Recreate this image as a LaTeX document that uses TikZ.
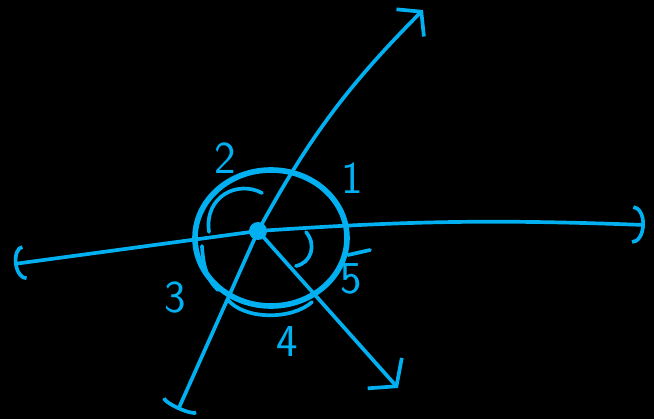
\documentclass[tikz,border=0pt]{standalone}
\usetikzlibrary{arrows.meta}
\definecolor{sketchblue}{RGB}{0,176,240}

\begin{document}
\begin{tikzpicture}[x=0.02cm,y=-0.02cm]

    \tikzset{
      ray/.style={
        color=sketchblue,
        line width=2.1pt,
        line cap=round,
      },
      rim/.style={
        color=sketchblue,
        line width=3.2pt,
        line cap=round,
      },
      digit/.style={
        color=sketchblue,
        font=\fontsize{26}{26}\selectfont\sffamily,
        inner sep=0pt,
      },
    }

	\fill[black] (0,0) rectangle (654,419);

	\node[circle,fill=sketchblue,inner sep=0pt,minimum size=0.36cm] (O) at (258,231) {};
	\coordinate (E) at (645,225);
	\coordinate (W) at (14,264);
	\coordinate (NE) at (423,10);
	\coordinate (SW) at (178,410);
	\coordinate (SE) at (398,388);

	% the rays
	\draw[ray,-{Arc Barb[length=7pt,width=22pt]}] (O.center) to[bend left=3] (E);
	\draw[ray,-{Arc Barb[length=6pt,width=20pt]}] (O.center) -- (W);
	\draw[ray,-{Straight Barb[length=9pt,width=22pt]}] (O.center) to[bend left=8] (NE);
	\draw[ray,-{Arc Barb[length=3pt,width=22pt]}] (O.center) -- (SW);
	\draw[ray,-{Straight Barb[length=10pt,width=26pt]}] (O.center) -- (SE);

	% the round
	\draw[rim] (271,238) ellipse [x radius=76, y radius=68];
	\draw[ray] (228,300) .. controls (245,320) and (292,320) .. (312,302);
	\draw[ray] (202,246) .. controls (203,265) and (207,280) .. (218,290);
	\draw[ray] (348,255) -- (370,250);

	% angle marks
	\draw[ray] (209,232) .. controls (204,196) and (238,180) .. (262,193);
	\draw[ray] (306,232) .. controls (317,245) and (311,263) .. (296,266);

	\node[digit] (n1) at (352,178) {1};
	\node[digit] (n2) at (225,158) {2};
	\node[digit] (n3) at (175,298) {3};
	\node[digit] (n4) at (287,342) {4};
	\node[digit] (n5) at (351,279) {5};

\end{tikzpicture}
\end{document}
